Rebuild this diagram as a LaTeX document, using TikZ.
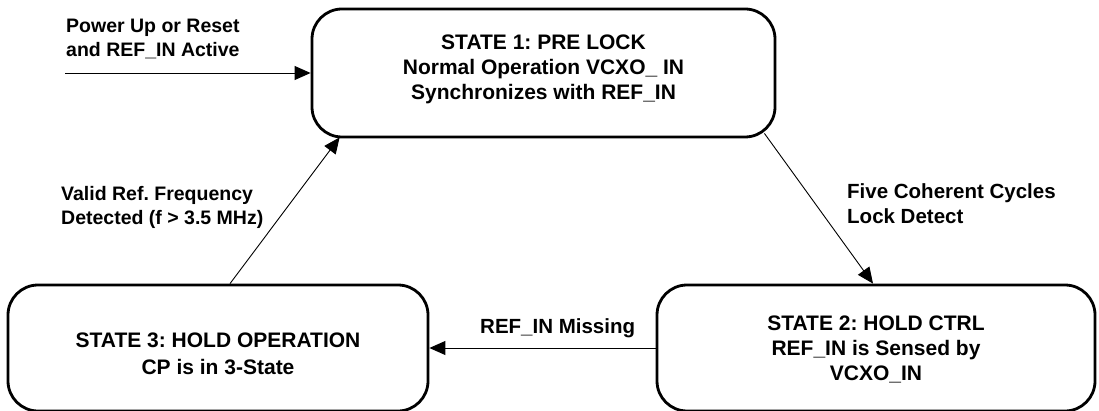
\documentclass[tikz,border=0pt]{standalone}
\usepackage{fontspec}
\setmainfont{Liberation Sans}
\usetikzlibrary{arrows.meta}
\usetikzlibrary{positioning}
\frenchspacing

\begin{document}
\begin{tikzpicture}[x=1pt, y=1pt,
  state/.style={draw, line width=2.8pt, rounded corners=30pt, inner sep=0pt},
  stext/.style={align=center, inner sep=0pt,
    font=\bfseries\fontsize{21}{25}\selectfont},
  lbl/.style={anchor=north west, inner sep=0pt, align=left,
    font=\bfseries\fontsize{20}{25}\selectfont},
  conn/.style={-{Triangle[length=16pt, width=14pt]}, line width=0.9pt}]

\useasboundingbox (0,0) rectangle (1099,410);

\node[state, minimum width=463pt, minimum height=128pt] (b1) at (543.5,337) {};
\node[state, minimum width=438pt, minimum height=126pt] (b2) at (876,62) {};
\node[state, minimum width=420pt, minimum height=126pt] (b3) at (218,62) {};

\node[stext] (t1) at ([yshift=4pt]b1.center)
  {STATE 1: PRE LOCK\\Normal Operation VCXO\_ IN\\Synchronizes with REF\_IN};
\node[stext] (t2) at ([yshift=-1pt]b2.center)
  {STATE 2: HOLD CTRL\\REF\_IN is Sensed by\\VCXO\_IN};
\node[stext, font=\bfseries\fontsize{21}{27}\selectfont] (t3) at ([yshift=-6pt]b3.center)
  {STATE 3: HOLD OPERATION\\CP is in 3-State};

\coordinate (pin) at (65,337);

%transitions
\draw[conn] (pin) -- (b1.west);
\draw[conn] ([xshift=-12pt, yshift=5pt]b1.south east) -- ([xshift=-3pt]b2.north);
\draw[conn] (b2.west) -- (b3.east);
\draw[conn] ([xshift=12pt]b3.north) -- ([xshift=29pt, yshift=1pt]b1.south west);

\node[lbl, font=\bfseries\fontsize{19.5}{24}\selectfont] (lpower) at (66,391) {Power Up or Reset\\and REF\_IN Active};
\node[lbl, font=\bfseries\fontsize{19.5}{24}\selectfont] (lvalid) at (61,224) {Valid Ref. Frequency\\Detected (f > 3.5 MHz)};
\node[lbl, font=\bfseries\fontsize{20.5}{25}\selectfont] (lfive) at (847,227) {Five Coherent Cycles\\Lock Detect};
\node[lbl, font=\bfseries\fontsize{20.5}{25}\selectfont] (lmiss) at (480,92) {REF\_IN Missing};

\end{tikzpicture}
\end{document}
